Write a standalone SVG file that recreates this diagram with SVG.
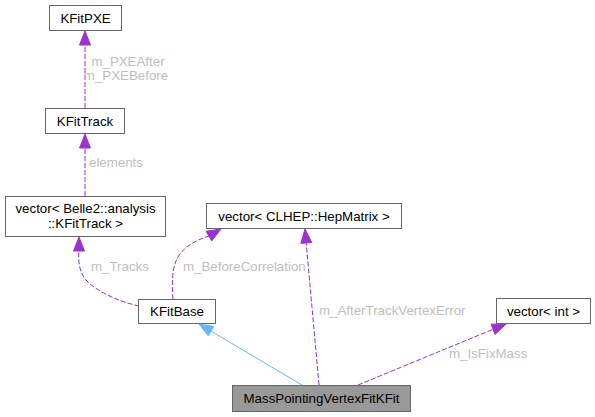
<svg xmlns="http://www.w3.org/2000/svg" width="595" height="417" viewBox="0 0 595 417">
<style>
.node rect{fill:#ffffff;stroke:#666666;stroke-width:1}
.node text{font-family:"Liberation Sans",Arial,sans-serif;font-size:13.3px;fill:#000000;text-anchor:middle}
.edge path{fill:none;stroke:#9a32cd;stroke-width:1;stroke-dasharray:5,2}
.edge polygon{fill:#9a32cd;stroke:#9a32cd;stroke-width:1}
.edge text{font-family:"Liberation Sans",Arial,sans-serif;font-size:13.3px;fill:#bebebe}
.inh path{fill:none;stroke:#63b8ff;stroke-width:1}
.inh polygon{fill:#63b8ff;stroke:#63b8ff;stroke-width:1}
</style>
<rect width="595" height="417" fill="#ffffff"/>
<g id="edges">
  <g class="edge">
    <path d="M85,108 L85,45"/>
    <polygon points="85,31 79.5,45 90.5,45"/>
    <text x="128" y="66" text-anchor="middle">m_PXEAfter</text>
    <text x="126" y="80" text-anchor="middle">m_PXEBefore</text>
  </g>
  <g class="edge">
    <path d="M85,196 L85,148"/>
    <polygon points="85,134 79.5,148 90.5,148"/>
    <text x="89" y="167">elements</text>
  </g>
  <g class="edge">
    <path d="M139,306 C120,302 97,292 86,280 C79,272 78,260 79,251"/>
    <polygon points="79,237 73.5,251 84.5,251"/>
    <text x="91" y="271">m_Tracks</text>
  </g>
  <g class="edge">
    <path d="M173,299 C172,285 171,265 180,254 C186,246 196,240 209,236"/>
    <polygon points="221,229 206.1,231.3 211.7,240.9"/>
    <text x="183" y="271">m_BeforeCorrelation</text>
  </g>
  <g class="edge">
    <path d="M319,385 L306.2,243"/>
    <polygon points="305,229 300.8,243.4 311.7,242.4"/>
    <text x="319" y="315">m_AfterTrackVertexError</text>
  </g>
  <g class="edge">
    <path d="M358,385 L493,329.3"/>
    <polygon points="506,324 491,324.2 495.1,334.4"/>
    <text x="449" y="358">m_IsFixMass</text>
  </g>
  <g class="inh">
    <path d="M302,385 L211,331.1"/>
    <polygon points="199,324 213.8,326.4 208.2,335.8"/>
  </g>
</g>
<g id="node-KFitPXE" class="node">
  <rect x="49.5" y="5.5" width="72" height="25"/>
  <text x="85.5" y="22.5">KFitPXE</text>
</g>
<g id="node-KFitTrack" class="node">
  <rect x="45.5" y="108.5" width="79" height="25"/>
  <text x="85" y="125.5">KFitTrack</text>
</g>
<g id="node-vectorKFitTrack" class="node">
  <rect x="5.5" y="196.5" width="160" height="40"/>
  <text x="85.5" y="212.5">vector&lt; Belle2::analysis</text>
  <text x="85.5" y="227.5">::KFitTrack &gt;</text>
</g>
<g id="node-vectorHepMatrix" class="node">
  <rect x="206.5" y="203.5" width="195" height="25"/>
  <text x="304" y="220.5">vector&lt; CLHEP::HepMatrix &gt;</text>
</g>
<g id="node-KFitBase" class="node">
  <rect x="138.5" y="299.5" width="77" height="24"/>
  <text x="177" y="316">KFitBase</text>
</g>
<g id="node-vectorInt" class="node">
  <rect x="496.5" y="298.5" width="94" height="25"/>
  <text x="543.5" y="315.5">vector&lt; int &gt;</text>
</g>
<g id="node-MassPointingVertexFitKFit" class="node">
  <rect x="232.5" y="385.5" width="178" height="26" style="fill:#999999"/>
  <text x="321.5" y="403">MassPointingVertexFitKFit</text>
</g>
</svg>
